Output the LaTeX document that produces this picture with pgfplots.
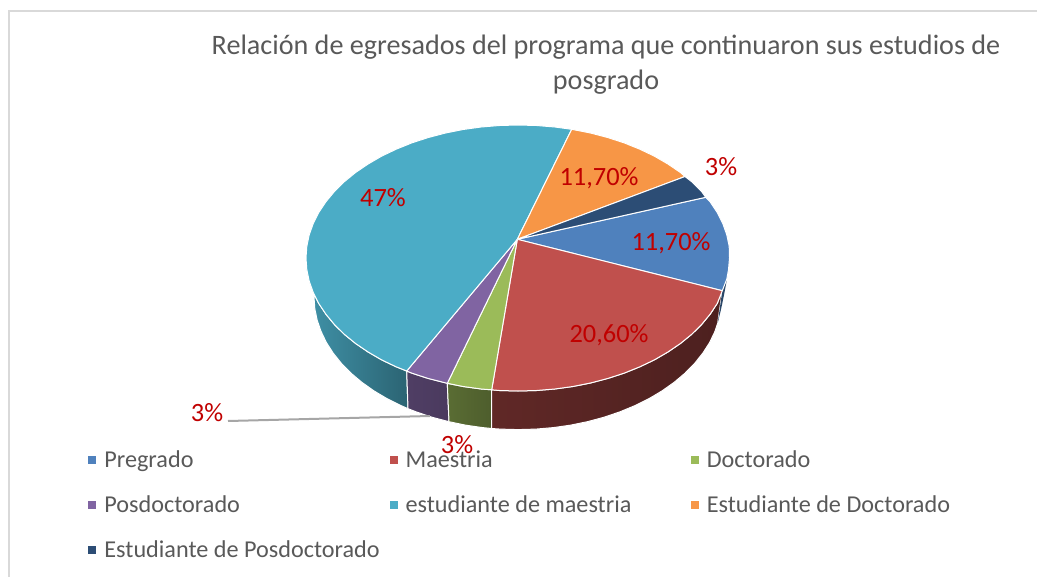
\documentclass[border=0pt]{standalone}
\usepackage{fontspec}
\setmainfont{Carlito}
\usepackage{pgfplots}
\pgfplotsset{compat=1.18}

\definecolor{cblue}{HTML}{4F81BD}
\definecolor{cred}{HTML}{C0504D}
\definecolor{cgreen}{HTML}{9BBB59}
\definecolor{cpurple}{HTML}{8064A2}
\definecolor{cteal}{HTML}{4BACC6}
\definecolor{corange}{HTML}{F79646}
\definecolor{cnavy}{HTML}{2C4D75}
\definecolor{lab}{HTML}{C00000}
\definecolor{txt}{HTML}{595959}
\newcommand{\entry}[1]{\makebox[142.6pt][l]{\hspace{2pt}#1}}

\begin{document}
\begin{tikzpicture}
\path[use as bounding box] (0,0) rectangle (518.5pt,288.5pt);
\begin{axis}[
    at={(0,0)}, anchor=south west,
    scale only axis, width=518.5pt, height=288.5pt,
    xmin=0, xmax=1037, ymin=0, ymax=577, y dir=reverse,
    axis lines=none,
    legend columns=3,
    legend style={at={(axis cs:88,446)}, anchor=north west, draw=none, fill=none,
        inner sep=0pt, row sep=8.6pt, font=\fontsize{12.1}{14.5}\selectfont\color{txt},
        /tikz/every even column/.append style={column sep=0pt}},
    legend image code/.code={\fill[#1,draw=none] (0pt,-2pt) rectangle (4pt,2pt);},
    every axis plot/.append style={draw=white, line width=0.5pt},
]
% frame
\addplot[forget plot, draw=black!15, line width=1pt] coordinates {(8.5,577) (8.5,11) (1037,11)};

% side walls
\addplot[forget plot, left color=cteal!85!black, right color=cteal!58!black] coordinates {
 (306,258) (306.8,269.6) (309.2,281.1) (313.2,292.4) (318.8,303.5) (325.9,314.2) (334.4,324.5) (344.3,334.3) (355.6,343.5) (368.1,352) (381.7,359.9) (396.4,366.9) (406.7,371)
 (408,408.7) (401,405.6) (386.9,398.6) (373.8,390.8) (361.7,382.2) (350.9,373.1) (341.3,363.3) (333.1,353) (326.3,342.4) (321,331.3) (317.1,320) (314.8,308.6) (314,297)} --cycle;
\addplot[forget plot, left color=cpurple!62!black, right color=cpurple!58!black] coordinates {
 (406.7,371) (412,373.2) (428.4,378.5) (447.3,383.3) (449,421.7) (431.8,417.2) (416,411.8) (408,408.7)} --cycle;
\addplot[forget plot, left color=cgreen!58!black, right color=cgreen!50!black] coordinates {
 (447.3,383.3) (463.1,386.5) (481.2,389) (491.7,389.8) (491.7,428.5) (482.6,427.6) (465.2,425.1) (449,421.7)} --cycle;
\addplot[forget plot, left color=cred!50!black, middle color=cred!40!black, right color=cred!40!black] coordinates {
 (491.7,389.8) (499.5,390.5) (518,391) (536.5,390.5) (554.8,389) (572.9,386.5) (590.5,383) (607.6,378.5) (624,373.2) (639.6,366.9) (654.3,359.9) (667.9,352) (680.4,343.5) (691.7,334.3) (701.6,324.5) (710.1,314.2) (717.2,303.5) (722.3,290.7)
 (717.7,323) (715,331.3) (709.7,342.4) (702.9,353) (694.7,363.3) (685.1,373.1) (674.3,382.2) (662.2,390.8) (649.1,398.6) (635,405.6) (620,411.8) (604.2,417.2) (587.8,421.6) (570.8,425.1) (553.4,427.6) (535.8,429.1) (518,429.6) (500.2,429.1) (491.7,428.5)} --cycle;
\addplot[forget plot, fill=cblue!55!black, draw=none] coordinates {
 (727,279) (722.3,290.7) (717.7,323) (721.2,308.6) (724,295)} --cycle;

% top faces
\addplot[fill=cblue] coordinates {
 (517.3,239.3) (705.7,197.3) (710.1,201.8) (717.2,212.5) (722.8,223.6) (726.8,234.9) (729.2,246.4) (729.5,258) (728.5,269.6) (726.8,279) (722.3,290.7)} --cycle;
\addlegendentry{\entry{Pregrado}}
\addplot[fill=cred] coordinates {
 (517.3,239.3) (722.3,290.7) (717.2,303.5) (710.1,314.2) (701.6,324.5) (691.7,334.3) (680.4,343.5) (667.9,352) (654.3,359.9) (639.6,366.9) (624,373.2) (607.6,378.5) (590.5,383) (572.9,386.5) (554.8,389) (536.5,390.5) (518,391) (499.5,390.5) (491.7,389.8)} --cycle;
\addlegendentry{\entry{Maestria}}
\addplot[fill=cgreen] coordinates {
 (517.3,239.3) (491.7,389.8) (481.2,389) (463.1,386.5) (447.3,383.3)} --cycle;
\addlegendentry{\entry{Doctorado}}
\addplot[fill=cpurple] coordinates {
 (517.3,239.3) (447.3,383.3) (428.4,378.5) (412,373.2) (406.7,371)} --cycle;
\addlegendentry{\entry{Posdoctorado}}
\addplot[fill=cteal] coordinates {
 (517.3,239.3) (406.7,371) (396.4,366.9) (381.7,359.9) (368.1,352) (355.6,343.5) (344.3,334.3) (334.4,324.5) (325.9,314.2) (318.8,303.5) (313.2,292.4) (309.2,281.1) (306.8,269.6) (306,258) (306.8,246.4) (309.2,234.9) (313.2,223.6) (318.8,212.5) (325.9,201.8)
 (334.4,191.5) (344.3,181.7) (355.6,172.5) (368.1,164) (381.7,156.1) (396.4,149.1) (412,142.8) (428.4,137.5) (445.5,133) (463.1,129.5) (481.2,127) (499.5,125.5) (518,125) (536.5,125.5) (554.8,127) (571.7,129.3)} --cycle;
\addlegendentry{\entry{estudiante de maestria}}
\addplot[fill=corange] coordinates {
 (517.3,239.3) (571.7,129.3) (590.5,133) (607.6,137.5) (624,142.8) (639.6,149.1) (654.3,156.1) (667.9,164) (680.4,172.5) (685,176.5)} --cycle;
\addlegendentry{\entry{Estudiante de Doctorado}}
\addplot[fill=cnavy] coordinates {
 (517.3,239.3) (685,176.5) (691.7,181.7) (701.6,191.5) (705.7,197.3)} --cycle;
\addlegendentry{\entry{Estudiante de Posdoctorado}}

% leader line
\addplot[forget plot, draw=black!35, line width=1pt] coordinates {(228,421) (430,416)};

% title and data labels
\node[align=center, text=txt, font=\fontsize{14.07}{17.5}\selectfont] at (axis cs:606,65)
  {Relación de egresados del programa que continuaron sus estudios de\\posgrado};
\begin{scope}[every node/.style={text=lab, font=\fontsize{13.2}{15}\selectfont, inner sep=0pt}]
\node at (axis cs:383,198) {47\%};
\node at (axis cs:599,178) {11,70\%};
\node at (axis cs:721,167) {3\%};
\node at (axis cs:671,243) {11,70\%};
\node at (axis cs:609,335) {20,60\%};
\node at (axis cs:207,413) {3\%};
\node at (axis cs:457,445) {3\%};
\end{scope}
\end{axis}
\end{tikzpicture}
\end{document}
